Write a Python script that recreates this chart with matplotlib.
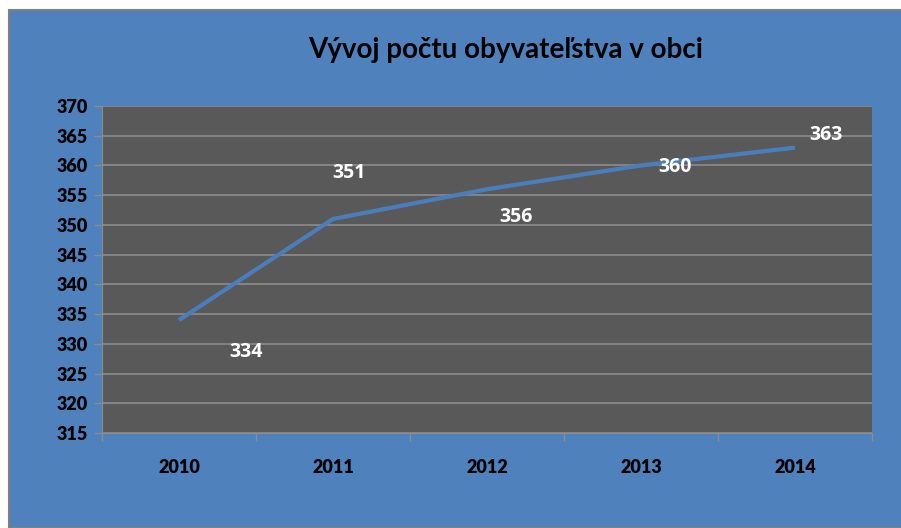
import matplotlib
matplotlib.use("Agg")
import matplotlib.pyplot as plt
from matplotlib.patches import Rectangle

years = ["2010", "2011", "2012", "2013", "2014"]
population = [334, 351, 356, 360, 363]
label_offsets_px = [(67, -32), (16, 46), (29, -28), (34, -2), (31, 13)]
yticks = [315, 320, 325, 330, 335, 340, 345, 350, 355, 360, 365, 370]
title = "Vývoj počtu obyvateľstva v obci"

W, H = 901, 528
fig = plt.figure(figsize=(W / 100, H / 100), dpi=100, facecolor="white")
BLUE = "#4F81BD"
fig.patches.append(Rectangle((9 / W, 0), 1, 1 - 10 / H, transform=fig.transFigure,
                             facecolor=BLUE, edgecolor="#7F7F7F", linewidth=1.5, zorder=-5))

left, right, top, bottom = 102, 872, 106, 433
ax = fig.add_axes([left / W, 1 - bottom / H, (right - left) / W, (bottom - top) / H])
ax.set_zorder(2)
ax.set_facecolor("#595959")
x = list(range(len(years)))
ax.set_xlim(-0.5, len(years) - 0.5)
ax.set_ylim(315, 370)
tickfont = dict(family="Lato", weight="heavy", size=13, color="black")
ax.set_yticks(yticks)
ax.set_yticklabels([str(v) for v in yticks], fontdict=tickfont)
ax.grid(axis="y", color="#8C8C8C", linewidth=1.2)
ax.set_axisbelow(True)
ax.set_xticks(x)
ax.set_xticklabels(years, fontdict=tickfont)
ax.set_xticks([i - 0.5 for i in range(len(years) + 1)], minor=True)
ax.tick_params(axis="x", which="major", length=0, pad=19)
ax.tick_params(axis="x", which="minor", length=6, color="#8C8C8C", width=1)
ax.tick_params(axis="y", length=6, color="#8C8C8C", width=1, pad=4)
for s in ["top", "right"]:
    ax.spines[s].set_visible(False)
ax.spines["left"].set_color("#8C8C8C")
ax.spines["bottom"].set_color("#8C8C8C")

ax.plot(x, population, color="#4A7EBB", linewidth=3, solid_capstyle="butt")
for xi, v, (dx, dy) in zip(x, population, label_offsets_px):
    ax.annotate(str(v), (xi, v), xytext=(dx, dy), textcoords="offset pixels",
                ha="center", va="center", color="white", fontweight="bold",
                fontsize=14, family="Open Sans")

fig.text(506 / W, 1 - 50 / H, title, ha="center", va="center", fontsize=20,
         fontweight="bold", family="Lato", color="black")
fig.savefig("out.png", dpi=100, facecolor="white")
